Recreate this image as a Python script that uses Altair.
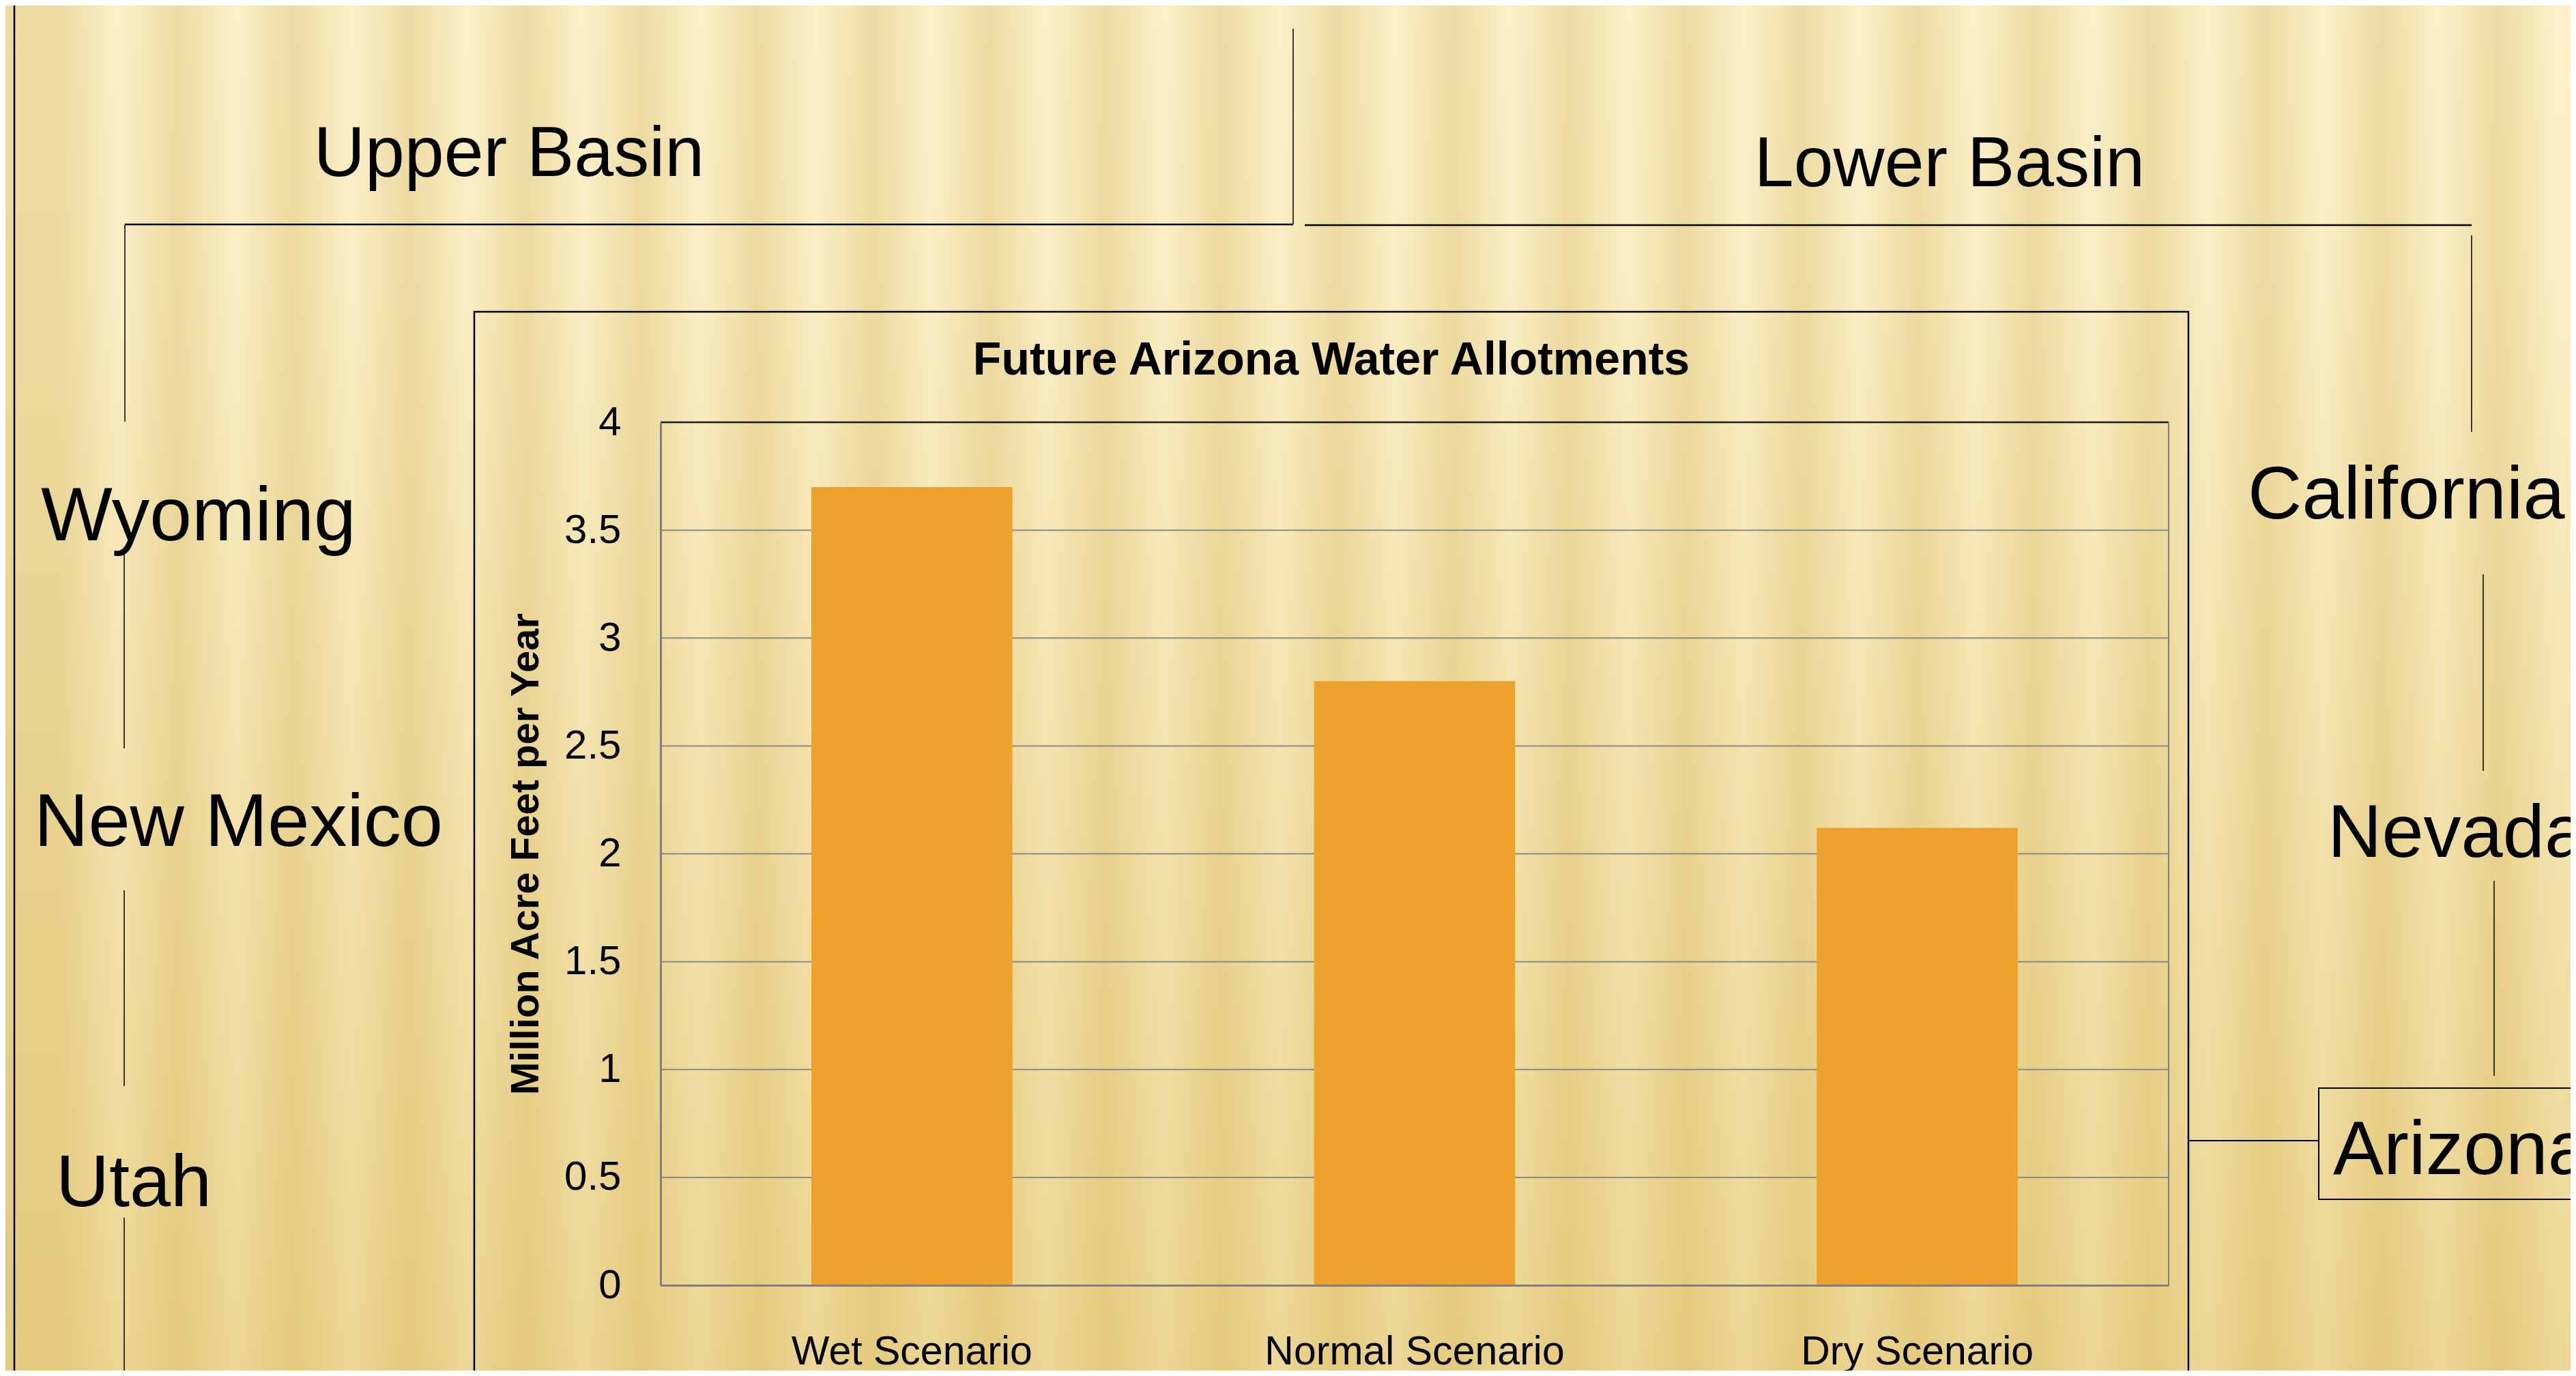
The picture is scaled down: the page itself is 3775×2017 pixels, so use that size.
import altair as alt
import pandas as pd

# ---- data ----
scenarios = ["Wet Scenario", "Normal Scenario", "Dry Scenario"]
allotments = [3.7, 2.8, 2.12]
y_ticks = [0, 0.5, 1, 1.5, 2, 2.5, 3, 3.5, 4]
grid_values = [0.5, 1, 1.5, 2, 2.5, 3, 3.5]

chart_title = "Future Arizona Water Allotments"
y_title = "Million Acre Feet per Year"

# ---- layout (page pixels) ----
OX, OY = 968, 619          # plot-area origin on the page
PW, PH = 2210, 1265        # plot area size
CW, CH = 3759, 2001        # whole canvas
PAD = {"left": OX - 8, "top": OY - 8,
       "right": CW - (OX - 8) - PW, "bottom": CH - (OY - 8) - PH}

FONT = "Liberation Sans"
one = pd.DataFrame({"k": [0]})


def rx(x):
    return alt.value(x - OX)


def ry(y):
    return alt.value(y - OY)


def rule(x1, y1, x2, y2, color="black", w=2):
    return alt.Chart(one).mark_rule(color=color, strokeWidth=w).encode(
        x=rx(x1), y=ry(y1), x2=rx(x2), y2=ry(y2))


def box(x1, y1, x2, y2, w=2.5):
    return alt.Chart(one).mark_rect(fill="transparent", stroke="black", strokeWidth=w).encode(
        x=rx(x1), y=ry(y1), x2=rx(x2), y2=ry(y2))


def label(txt, x, y, size, align="left", weight="normal", font=FONT):
    return alt.Chart(one).mark_text(
        text=txt, fontSize=size, align=align, baseline="alphabetic",
        font=font, fontWeight=weight, color="black").encode(x=rx(x), y=ry(y))


# ---- background: vertical stripes + warm tone toward the bottom ----
light, dark = "#FCF0CA", "#EDDBA2"
stops = []
period = 170
pos = 82 - period
while pos < CW + period:
    for off, col in ((0, dark), (period / 2, light)):
        o = (pos + off) / CW
        if 0 <= o <= 1:
            stops.append(alt.GradientStop(color=col, offset=o))
    pos += period
stripe_grad = alt.LinearGradient(gradient="linear", x1=0, x2=1, y1=0, y2=0, stops=stops)
tone_grad = alt.LinearGradient(
    gradient="linear", x1=0, x2=0, y1=0, y2=1,
    stops=[alt.GradientStop(color="rgba(209,171,59,0)", offset=0),
           alt.GradientStop(color="rgba(209,171,59,0.03)", offset=0.2),
           alt.GradientStop(color="rgba(209,171,59,0.2)", offset=0.6),
           alt.GradientStop(color="rgba(209,171,59,0.37)", offset=1)])

bg = alt.Chart(one).mark_rect(color=stripe_grad).encode(
    x=rx(8), x2=rx(8 + CW), y=ry(8), y2=ry(8 + CH))
tone = alt.Chart(one).mark_rect(color=tone_grad).encode(
    x=rx(8), x2=rx(8 + CW), y=ry(8), y2=ry(8 + CH))

# ---- chart ----
yscale = alt.Scale(domain=[0, 4], nice=False, zero=True)
y_axis = alt.Axis(values=y_ticks, format="~g", grid=False, ticks=False,
                  labelFont=FONT, labelFontSize=60, labelColor="black",
                  labelPadding=58, domainColor="#7F7F7F", domainWidth=3,
                  title=y_title, titleFont=FONT, titleFontSize=58,
                  titleFontWeight="bold", titleColor="black",
                  titleAngle=270, titleAlign="center", titleBaseline="alphabetic",
                  titleX=788 - OX, titleY=PH / 2, zindex=1)

grid = alt.Chart(pd.DataFrame({"value": grid_values})).mark_rule(
    color="#8A8A8A", strokeWidth=2).encode(y=alt.Y("value:Q", scale=yscale, axis=y_axis))

bars = alt.Chart(pd.DataFrame({"scenario": scenarios, "value": allotments})).mark_bar(
    color="#EEA22E").encode(
    x=alt.X("scenario:N", sort=scenarios,
            scale=alt.Scale(paddingInner=0.6, paddingOuter=0.3),
            axis=alt.Axis(title=None, labelAngle=0, labelFont=FONT, labelFontSize=59,
                          labelColor="black", labelPadding=68, labelLimit=1000, ticks=False,
                          domainColor="#7F7F7F", domainWidth=3, zindex=1)),
    y=alt.Y("value:Q", scale=yscale, axis=y_axis))

top_border = rule(OX, OY, OX + PW, OY, color="#1A1A1A", w=2.5)
right_border = rule(OX + PW, OY, OX + PW, OY + PH, color="#7F7F7F", w=2)

decor = [
    rule(21, 0, 21, 2030, w=2.5),
    # Upper basin bracket
    rule(183, 329, 1895, 329, w=2.5),
    rule(183, 329, 183, 618, w=1.5),
    rule(1895, 42, 1895, 329, w=1.5),
    # Lower basin bracket
    rule(1912, 330, 3622, 330, w=2.5),
    rule(3622, 345, 3622, 633, w=1.5),
    # left connectors
    rule(182, 810, 182, 1097, w=1.5),
    rule(182, 1305, 182, 1592, w=1.5),
    rule(182, 1785, 182, 2030, w=1.5),
    # right connectors
    rule(3639, 842, 3639, 1130, w=1.5),
    rule(3655, 1291, 3655, 1577, w=1.5),
    # chart frame and Arizona box
    box(695, 457, 3207, 2060),
    rule(3207, 1672, 3398, 1672, w=2),
    box(3398, 1595, 3800, 1758, w=2),
]

texts = [
    label(chart_title, 1951, 549, 68, align="center", weight="bold"),
    label("Upper Basin", 746, 258, 104, align="center"),
    label("Lower Basin", 2857, 273, 104, align="center"),
    label("Wyoming", 60, 792, 111),
    label("New Mexico", 50, 1240, 110),
    label("Utah", 82, 1768, 108),
    label("California", 3294, 760, 110),
    label("Nevada", 3411, 1256, 110),
    label("Arizona", 3419, 1721, 111),
]

chart = alt.layer(bg, tone, grid, bars, top_border, right_border, *decor, *texts).properties(
    width=PW, height=PH,
    autosize=alt.AutoSizeParams(type="none"),
    padding=PAD,
    background="#F3E2AE",
).configure_view(stroke=None)

chart.save("out.html", embed_options={"renderer": "svg", "actions": False})
